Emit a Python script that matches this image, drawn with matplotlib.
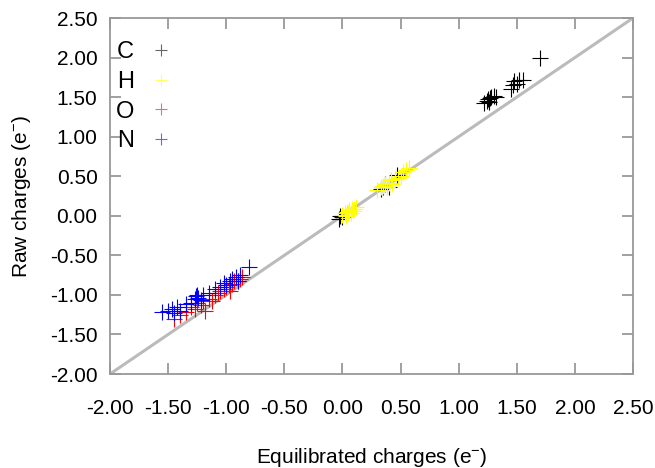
import matplotlib
matplotlib.use("Agg")
import matplotlib.pyplot as plt
import numpy as np

plt.rcParams['font.family'] = ['Liberation Sans', 'DejaVu Sans']
plt.rcParams['mathtext.default'] = 'regular'

# Data
c_x = [1.22, 1.24, 1.25, 1.26, 1.27, 1.28, 1.30, 1.32, 1.45, 1.47, 1.48, 1.50, 1.52, 1.55, 1.70,
       -0.03, -0.02, 0.00, 0.33, 0.35, 0.37, 0.40, 0.47]
c_y = [1.42, 1.45, 1.47, 1.44, 1.49, 1.50, 1.52, 1.50, 1.60, 1.65, 1.70, 1.66, 1.72, 1.72, 2.00,
       -0.04, 0.00, -0.02, 0.34, 0.37, 0.40, 0.36, 0.52]

h_x = [0.00, 0.02, 0.03, 0.04, 0.05, 0.06, 0.07, 0.08, 0.09, 0.10, 0.12,
       0.30, 0.33, 0.35, 0.37, 0.38, 0.40, 0.42, 0.43, 0.45, 0.48, 0.50, 0.52, 0.55, 0.57]
h_y = [0.01, 0.03, 0.00, 0.05, 0.04, 0.07, 0.03, 0.09, 0.06, 0.08, 0.11,
       0.33, 0.36, 0.38, 0.40, 0.37, 0.42, 0.45, 0.40, 0.47, 0.48, 0.50, 0.55, 0.58, 0.60]

o_x = [-1.45, -1.40, -1.35, -1.30, -1.27, -1.25, -1.22, -1.20, -1.15, -1.10, -1.07, -1.05,
       -1.02, -1.00, -0.98, -0.95, -0.93, -0.90, -0.88, -0.86, -1.18, -1.12, -0.97]
o_y = [-1.30, -1.25, -1.22, -1.15, -1.18, -1.10, -1.13, -1.08, -1.05, -1.00, -0.97, -0.95,
       -0.92, -0.90, -0.88, -0.86, -0.83, -0.82, -0.80, -0.78, -1.20, -1.08, -0.95]

n_x = [-1.55, -1.50, -1.47, -1.45, -1.42, -1.40, -1.35, -1.30, -1.27, -1.26, -1.25, -1.24,
       -1.22, -1.20, -1.15, -1.10, -1.05, -1.02, -1.00, -0.97, -0.95, -0.92, -0.90, -0.88, -0.80]
n_y = [-1.22, -1.20, -1.18, -1.23, -1.15, -1.20, -1.12, -1.10, -1.05, -1.02, -1.00, -1.04,
       -1.07, -1.00, -0.98, -0.92, -0.90, -0.85, -0.88, -0.82, -0.80, -0.78, -0.83, -0.75, -0.65]

ticks = [-2.0, -1.5, -1.0, -0.5, 0.0, 0.5, 1.0, 1.5, 2.0, 2.5]
tick_labels = ['-2.00', '-1.50', '-1.00', '-0.50', '0.00', '0.50', '1.00', '1.50', '2.00', '2.50']

fig = plt.figure(figsize=(6.55, 4.68), dpi=100)
ax = fig.add_axes([110/655, 94/468, 523/655, 356/468])

ax.plot([-2.0, 2.5], [-2.0, 2.5], color='#bbbbbb', lw=2.2, zorder=1)

series = [('C', c_x, c_y, 'black'), ('H', h_x, h_y, '#ffff00'),
          ('O', o_x, o_y, '#ff0000'), ('N', n_x, n_y, '#0000ff')]
for lab, xs, ys, col in series:
    ax.plot(xs, ys, linestyle='none', marker='+', markersize=11, mew=0.8,
            color=col, label=lab, zorder=2)

ax.set_xlim(-2.0, 2.5)
ax.set_ylim(-2.0, 2.5)
ax.set_xticks(ticks)
ax.set_xticklabels(tick_labels)
ax.set_yticks(ticks)
ax.set_yticklabels(tick_labels)
ax.tick_params(direction='in', length=8, width=1.3, color='#999999',
               top=True, right=True, labelsize=15)
ax.tick_params(axis='x', pad=18)
ax.tick_params(axis='y', pad=9)
for s in ax.spines.values():
    s.set_color('#999999')
    s.set_linewidth(1.3)

ax.set_xlabel('Equilibrated charges (e$^{-}$)', fontsize=15, labelpad=20)
ax.set_ylabel('Raw charges (e$^{-}$)', fontsize=15, labelpad=12)

leg = ax.legend(loc='upper left', frameon=False, markerfirst=False, fontsize=17,
                handlelength=0.8, handletextpad=0.75, labelspacing=0.33,
                bbox_to_anchor=(-0.016, 0.975), borderaxespad=0.2)
for h in leg.legend_handles:
    h.set_alpha(0.6)
    h.set_markersize(9)

fig.savefig('out.png', dpi=100)
